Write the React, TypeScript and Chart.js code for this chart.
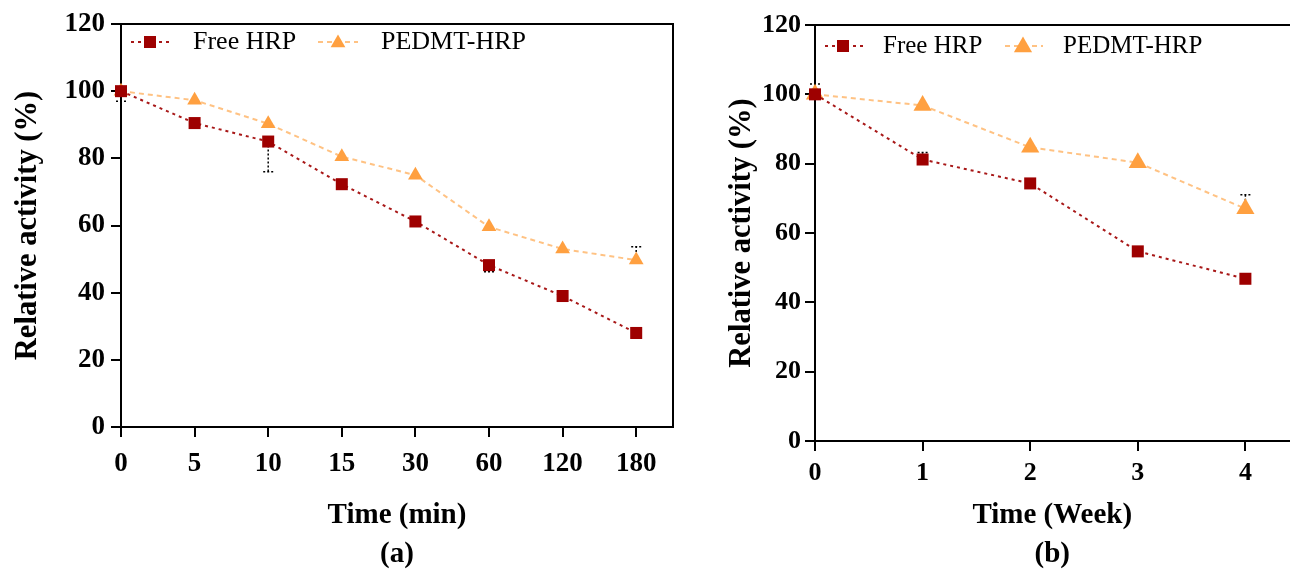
import React, { useEffect, useRef } from "react";
import { Chart, registerables } from "chart.js";

Chart.register(...registerables);

// ---------- Data ----------
const timeLabelsA = ["0", "5", "10", "15", "30", "60", "120", "180"];
const freeA = [100, 90.5, 85, 72.3, 61.2, 48.2, 39, 28];
const pedmtA = [100, 97.3, 90.3, 80.5, 75, 59.6, 53, 49.7];
const freeErrUpA = [0, 0, 0, 0, 0, 0, 0, 0];
const freeErrDownA = [3, 0, 9, 0, 0, 2, 0, 0];
const pedmtErrUpA = [0, 0, 0, 0, 0, 0, 0, 4];
const pedmtErrDownA = [0, 0, 0, 0, 0, 0, 0, 0];

const weekLabelsB = ["0", "1", "2", "3", "4"];
const freeB = [100, 81.2, 74.3, 54.7, 46.8];
const pedmtB = [100, 96.8, 84.7, 80.3, 67];
const freeErrUpB = [3, 2, 0, 0, 0];
const freeErrDownB = [0, 0, 0, 0, 0];
const pedmtErrUpB = [0, 0, 0, 0, 4];
const pedmtErrDownB = [0, 0, 0, 0, 0];

const seriesNames = ["Free HRP", "PEDMT-HRP"];
const yAxisTitle = "Relative activity (%)";
const xTitleA = ["Time (min)", "(a)"];
const xTitleB = ["Time (Week)", "(b)"];

// ---------- Styles ----------
const SERIF = "'Liberation Serif', 'Times New Roman', serif";
const FREE_MARK = "#9E0000";
const FREE_LINE = "#A81818";
const PED_MARK = "#FFA040";
const PED_LINE = "#FFC283";

type PanelCfg = {
  labels: string[];
  free: number[];
  pedmt: number[];
  freeUp: number[];
  freeDown: number[];
  pedUp: number[];
  pedDown: number[];
  xMax: number;
  xTitle: string[];
  canvasW: number;
  yWidth: number;
  xHeight: number;
  padTop: number;
  padRight: number;
  yTitlePad: number;
  yTickPad: number;
  xTickPad: number;
  tickFont: number;
  legendFont: number;
  triR: number;
  frameRight: boolean;
  legendOffsets: { y: number; l1: number; m1: number; t1: number; l2: number; m2: number; t2: number; lw: number };
};

function drawTriangle(ctx: CanvasRenderingContext2D, x: number, y: number, r: number) {
  ctx.beginPath();
  let rad = 0;
  ctx.moveTo(x + Math.sin(rad) * r, y - Math.cos(rad) * r);
  rad += (2 * Math.PI) / 3;
  ctx.lineTo(x + Math.sin(rad) * r, y - Math.cos(rad) * r);
  rad += (2 * Math.PI) / 3;
  ctx.lineTo(x + Math.sin(rad) * r, y - Math.cos(rad) * r);
  ctx.closePath();
  ctx.fill();
}

function makeChart(canvas: HTMLCanvasElement, p: PanelCfg) {
  const toPts = (arr: number[]) => arr.map((v, i) => ({ x: i, y: v }));

  const errPlugin = {
    id: "errbars",
    beforeDatasetsDraw(chart: any) {
      const ctx = chart.ctx as CanvasRenderingContext2D;
      const xs = chart.scales.x;
      const ys = chart.scales.y;
      ctx.save();
      ctx.strokeStyle = "#000";
      ctx.lineWidth = 1.5;
      ctx.setLineDash([2, 2]);
      const groups = [
        { v: p.free, up: p.freeUp, down: p.freeDown },
        { v: p.pedmt, up: p.pedUp, down: p.pedDown },
      ];
      groups.forEach((g) => {
        g.v.forEach((val, i) => {
          const px = xs.getPixelForValue(i);
          const py = ys.getPixelForValue(val);
          [g.up[i], -g.down[i]].forEach((e) => {
            if (!e) return;
            const ey = ys.getPixelForValue(val + e);
            ctx.beginPath();
            ctx.moveTo(px, py);
            ctx.lineTo(px, ey);
            ctx.moveTo(px - 5, ey);
            ctx.lineTo(px + 5, ey);
            ctx.stroke();
          });
        });
      });
      ctx.restore();
    },
  };

  const framePlugin = {
    id: "frame",
    afterDraw(chart: any) {
      const ctx = chart.ctx as CanvasRenderingContext2D;
      const a = chart.chartArea;
      ctx.save();
      ctx.strokeStyle = "#000";
      ctx.lineWidth = 2;
      ctx.beginPath();
      ctx.moveTo(a.left - 1, a.top);
      ctx.lineTo(a.right + 1, a.top);
      if (p.frameRight) {
        ctx.moveTo(a.right, a.top);
        ctx.lineTo(a.right, a.bottom);
      }
      ctx.stroke();
      ctx.restore();
    },
  };

  const legendPlugin = {
    id: "customLegend",
    afterDraw(chart: any) {
      const ctx = chart.ctx as CanvasRenderingContext2D;
      const a = chart.chartArea;
      const o = p.legendOffsets;
      const y = a.top + o.y;
      ctx.save();
      // Free HRP
      ctx.strokeStyle = FREE_LINE;
      ctx.lineWidth = 2;
      ctx.setLineDash([3, 4]);
      ctx.beginPath();
      ctx.moveTo(a.left + o.l1, y);
      ctx.lineTo(a.left + o.l1 + o.lw, y);
      ctx.stroke();
      ctx.setLineDash([]);
      ctx.fillStyle = FREE_MARK;
      ctx.fillRect(a.left + o.m1 - 6, y - 6, 12, 12);
      // PEDMT-HRP
      ctx.strokeStyle = PED_LINE;
      ctx.setLineDash([5, 4]);
      ctx.beginPath();
      ctx.moveTo(a.left + o.l2, y);
      ctx.lineTo(a.left + o.l2 + o.lw, y);
      ctx.stroke();
      ctx.setLineDash([]);
      ctx.fillStyle = PED_MARK;
      drawTriangle(ctx, a.left + o.m2, y + 1, p.triR);
      // text
      ctx.fillStyle = "#000";
      ctx.font = `${p.legendFont}px ${SERIF}`;
      ctx.textBaseline = "middle";
      ctx.textAlign = "left";
      ctx.fillText(seriesNames[0], a.left + o.t1, y);
      ctx.fillText(seriesNames[1], a.left + o.t2, y);
      ctx.restore();
    },
  };

  return new Chart(canvas, {
    type: "line",
    data: {
      datasets: [
        {
          label: seriesNames[0],
          data: toPts(p.free),
          borderColor: FREE_LINE,
          borderWidth: 2,
          borderDash: [3, 4],
          pointStyle: "rect",
          pointRadius: 8.5,
          pointBackgroundColor: FREE_MARK,
          pointBorderColor: FREE_MARK,
          pointBorderWidth: 0,
          clip: false as any,
          order: 1,
        },
        {
          label: seriesNames[1],
          data: toPts(p.pedmt),
          borderColor: PED_LINE,
          borderWidth: 2,
          borderDash: [5, 4],
          pointStyle: "triangle",
          pointRadius: p.triR,
          pointBackgroundColor: PED_MARK,
          pointBorderColor: PED_MARK,
          pointBorderWidth: 0,
          clip: false as any,
          order: 2,
        },
      ],
    },
    options: {
      responsive: false,
      animation: false,
      devicePixelRatio: 1,
      layout: { padding: { left: 0, top: p.padTop, right: p.padRight, bottom: 0 } },
      plugins: { legend: { display: false }, tooltip: { enabled: false } },
      scales: {
        x: {
          type: "linear",
          min: 0,
          max: p.xMax,
          afterBuildTicks: (s: any) => {
            s.ticks = p.labels.map((_, i) => ({ value: i }));
          },
          afterFit: (s: any) => {
            s.height = p.xHeight;
          },
          border: { display: true, color: "#000", width: 2 },
          grid: { display: true, drawOnChartArea: false, drawTicks: true, tickLength: 10, color: "#000", lineWidth: 2 },
          ticks: {
            autoSkip: false,
            maxRotation: 0,
            padding: p.xTickPad,
            color: "#000",
            font: { family: SERIF, size: p.tickFont, weight: "bold" },
            callback: (v: any) => p.labels[Number(v)] ?? "",
          },
          title: {
            display: true,
            text: p.xTitle,
            color: "#000",
            font: { family: SERIF, size: 29, weight: "bold", lineHeight: 1.35 },
            padding: { top: 0, bottom: -5 },
          },
        },
        y: {
          type: "linear",
          min: 0,
          max: 120,
          afterFit: (s: any) => {
            s.width = p.yWidth;
          },
          border: { display: true, color: "#000", width: 2 },
          grid: { display: true, drawOnChartArea: false, drawTicks: true, tickLength: 10, color: "#000", lineWidth: 2 },
          ticks: {
            stepSize: 20,
            padding: p.yTickPad,
            color: "#000",
            font: { family: SERIF, size: p.tickFont, weight: "bold" },
          },
          title: {
            display: true,
            text: yAxisTitle,
            color: "#000",
            font: { family: SERIF, size: 30.5, weight: "bold" },
            padding: { top: p.yTitlePad, bottom: 0 },
          },
        },
      },
    },
    plugins: [errPlugin, framePlugin, legendPlugin],
  } as any);
}

const panelA: PanelCfg = {
  labels: timeLabelsA,
  free: freeA,
  pedmt: pedmtA,
  freeUp: freeErrUpA,
  freeDown: freeErrDownA,
  pedUp: pedmtErrUpA,
  pedDown: pedmtErrDownA,
  xMax: 7.5,
  xTitle: xTitleA,
  canvasW: 700,
  yWidth: 121,
  xHeight: 569 - 427,
  padTop: 24,
  padRight: 27,
  yTitlePad: 10,
  yTickPad: 6,
  xTickPad: 11,
  tickFont: 27,
  legendFont: 26,
  triR: 8.5,
  frameRight: true,
  legendOffsets: { y: 18, l1: 10, m1: 29, t1: 72, l2: 197, m2: 217, t2: 260, lw: 40 },
};

const panelB: PanelCfg = {
  labels: weekLabelsB,
  free: freeB,
  pedmt: pedmtB,
  freeUp: freeErrUpB,
  freeDown: freeErrDownB,
  pedUp: pedmtErrUpB,
  pedDown: pedmtErrDownB,
  xMax: 4.41,
  xTitle: xTitleB,
  canvasW: 610,
  yWidth: 125,
  xHeight: 569 - 441,
  padTop: 25,
  padRight: 0,
  yTitlePad: 34,
  yTickPad: 4,
  xTickPad: 7,
  tickFont: 26,
  legendFont: 25,
  triR: 10.5,
  frameRight: false,
  legendOffsets: { y: 21, l1: 10, m1: 28, t1: 68, l2: 190, m2: 208, t2: 248, lw: 38 },
};

function Panel({ cfg, left }: { cfg: PanelCfg; left: number }) {
  const ref = useRef<HTMLCanvasElement | null>(null);
  useEffect(() => {
    if (!ref.current) return;
    const chart = makeChart(ref.current, cfg);
    return () => chart.destroy();
  }, [cfg]);
  return (
    <canvas
      ref={ref}
      width={cfg.canvasW}
      height={569}
      style={{ position: "absolute", left, top: 0, width: cfg.canvasW, height: 569 }}
    />
  );
}

export default function App() {
  return (
    <div
      style={{
        position: "fixed",
        left: 0,
        top: 0,
        width: 1290,
        height: 569,
        background: "#fff",
        overflow: "hidden",
      }}
    >
      <Panel cfg={panelA} left={0} />
      <Panel cfg={panelB} left={690} />
    </div>
  );
}
